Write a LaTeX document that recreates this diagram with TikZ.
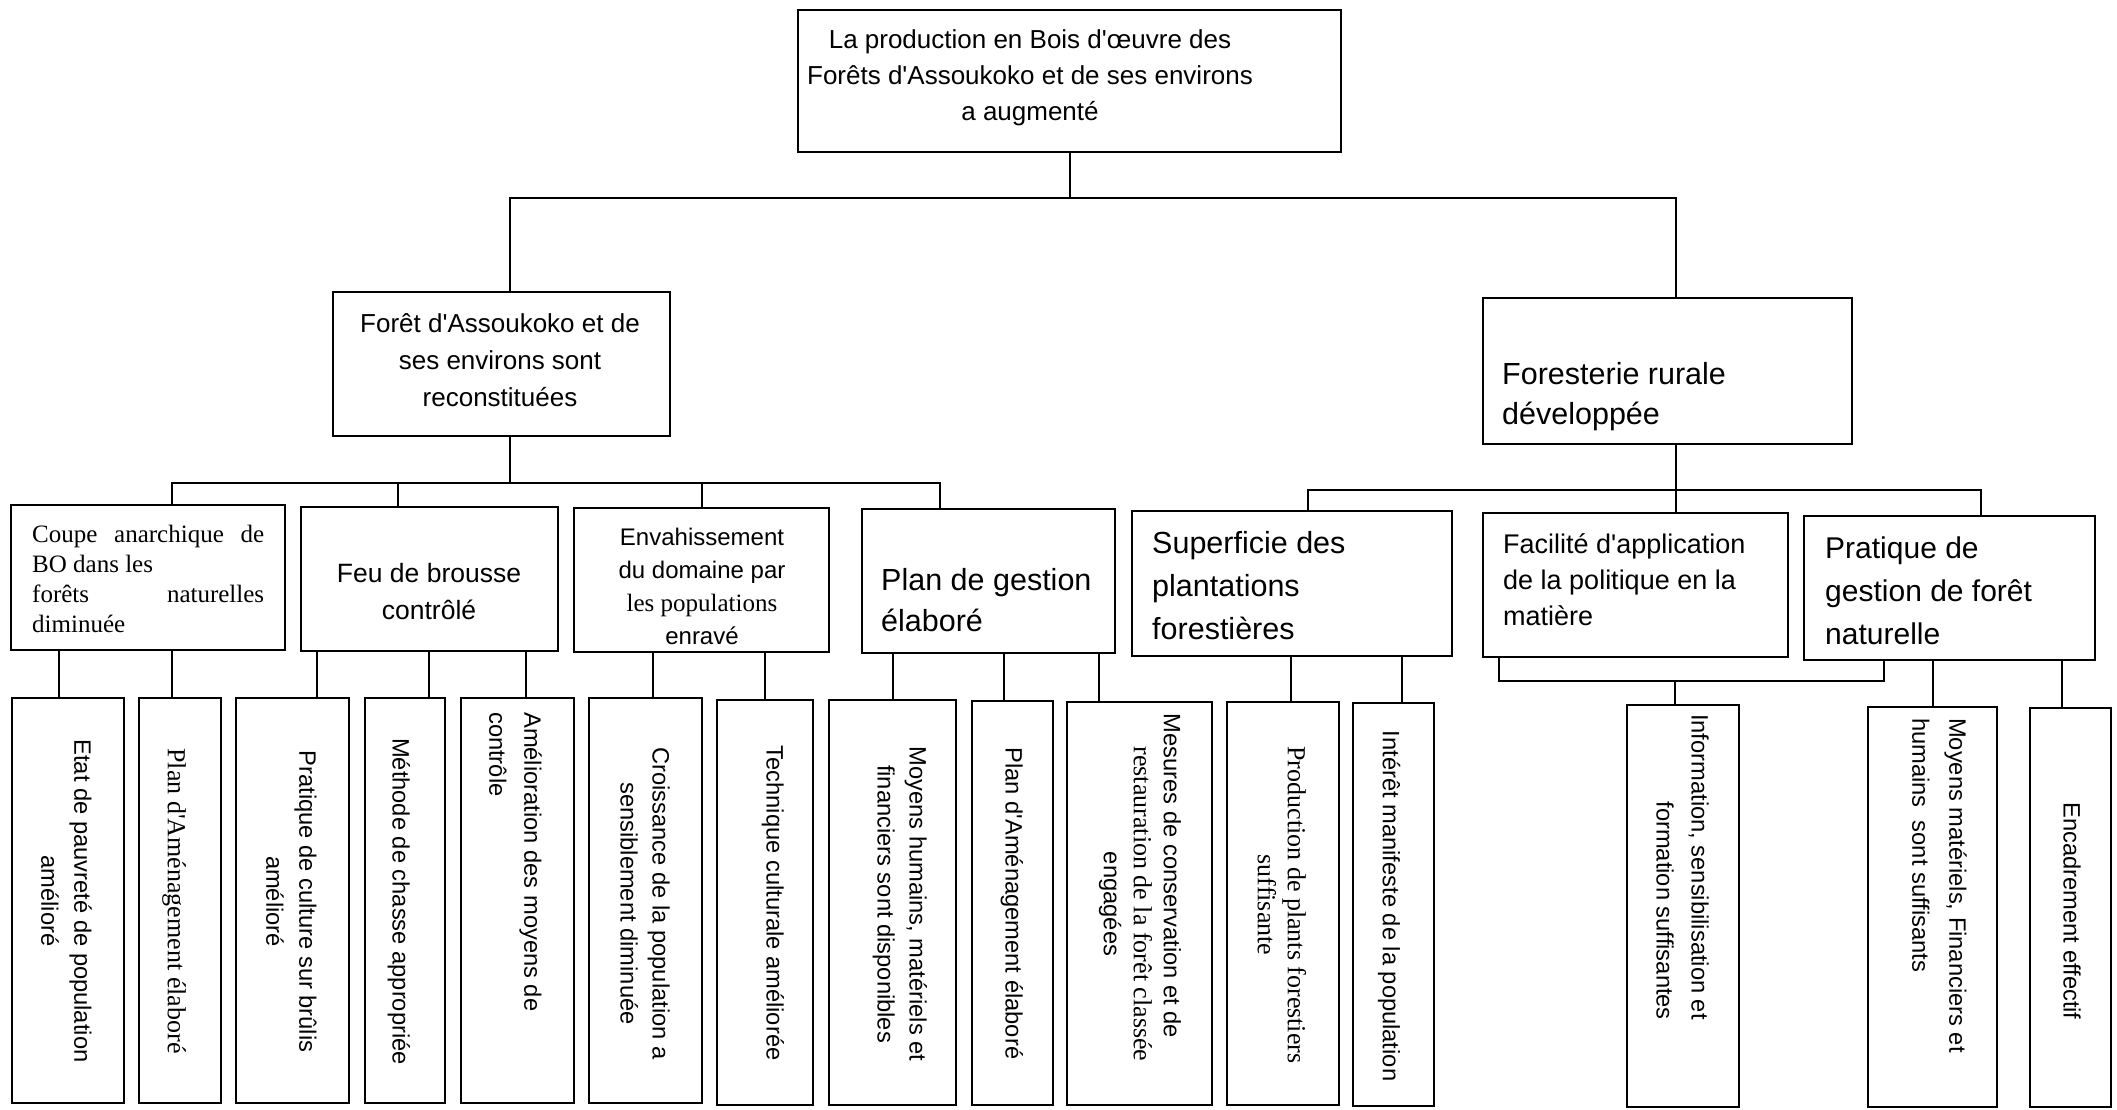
\documentclass[tikz,border=0pt]{standalone}
\usepackage{fontspec}
\setmainfont{Liberation Serif}
\newfontfamily\arial{Liberation Sans}
\newfontfamily\tnr{Liberation Serif}
\begin{document}
\begin{tikzpicture}[x=1pt,y=-1pt,
  box/.style={draw, line width=2pt, inner sep=0pt, rectangle},
  conn/.style={line width=2pt},
  sfnt/.style 2 args={inner sep=0pt, font={\arial\fontsize{#1}{#2}\selectfont}},
  rmnt/.style 2 args={inner sep=0pt, font={\tnr\fontsize{#1}{#2}\selectfont}},
  vs/.style={inner sep=0pt, rotate=-90, font={\arial\fontsize{23.7}{#1}\selectfont}},
  vr/.style={inner sep=0pt, rotate=-90, font={\tnr\fontsize{26}{#1}\selectfont}},
]
\useasboundingbox[fill=white] (0,0) rectangle (2117,1110);

% ---------- level 0
\node[box, minimum width=543pt, minimum height=142pt] (T) at (1069.5,81) {};
\node[sfnt={26}{36}, align=center] (tT) at (1030,78) {La production en Bois d'œuvre des\\Forêts d'Assoukoko et de ses environs\\a augmenté};

% ---------- level 1
\node[box, minimum width=337pt, minimum height=144pt] (L1) at (501.5,364) {};
\node[sfnt={26}{37}, align=center] (tL1) at (500,360) {Forêt d'Assoukoko et de\\ses environs sont\\reconstituées};
\node[box, minimum width=369pt, minimum height=146pt] (R1) at (1667.5,371) {};
\node[sfnt={30.5}{40}, align=left, anchor=west] (tR1) at (1502,397) {Foresterie rurale\\développée};

% ---------- level 2
\node[box, minimum width=274pt, minimum height=145pt] (C) at (148,577.5) {};
\node[rmnt={25}{30}, align=left, anchor=west] (tC) at (32,579) {\makebox[232pt][s]{Coupe anarchique de}\\BO dans les\\\makebox[232pt][s]{forêts naturelles}\\diminuée};

\node[box, minimum width=257pt, minimum height=144pt] (F) at (429.5,579) {};
\node[sfnt={26.5}{37}, align=center] (tF) at (429,591.5) {Feu de brousse\\contrôlé};

\node[box, minimum width=255pt, minimum height=144pt] (V) at (701.5,580) {};
\node[sfnt={24}{33}, align=center] (tV) at (702,586) {Envahissement\\du domaine par\\\tnr\fontsize{25}{32}\selectfont les populations\\enravé};

\node[box, minimum width=253pt, minimum height=144pt] (P) at (988.5,581) {};
\node[sfnt={30.5}{41}, align=left, anchor=west] (tP) at (881,600) {Plan de gestion\\élaboré};

\node[box, minimum width=320pt, minimum height=145pt] (S) at (1292,583.5) {};
\node[sfnt={30.5}{43}, align=left, anchor=west] (tS) at (1152,586) {Superficie des\\plantations\\forestières};

\node[box, minimum width=305pt, minimum height=144pt] (Fa) at (1635.5,585) {};
\node[sfnt={27}{36}, align=left, anchor=west] (tFa) at (1503,580) {Facilité d'application\\de la politique en la\\matière};

\node[box, minimum width=291pt, minimum height=144pt] (Pr) at (1949.5,588) {};
\node[sfnt={30}{43}, align=left, anchor=west] (tPr) at (1825,591) {Pratique de\\gestion de forêt\\naturelle};

% ---------- level 3 boxes
\node[box, minimum width=112pt, minimum height=405pt] (E1) at (68,900.5) {};
\node[box, minimum width=82pt, minimum height=405pt] (E2) at (180,900.5) {};
\node[box, minimum width=113pt, minimum height=405pt] (E3) at (292.5,900.5) {};
\node[box, minimum width=80pt, minimum height=405pt] (E4) at (405,900.5) {};
\node[box, minimum width=113pt, minimum height=405pt] (E5) at (517.5,900.5) {};
\node[box, minimum width=113pt, minimum height=405pt] (E6) at (645.5,900.5) {};
\node[box, minimum width=96pt, minimum height=405pt] (E7) at (765,902.5) {};
\node[box, minimum width=127pt, minimum height=405pt] (E8) at (892.5,902.5) {};
\node[box, minimum width=81pt, minimum height=404pt] (E9) at (1012.5,903) {};
\node[box, minimum width=145pt, minimum height=403pt] (E10) at (1139.5,903.5) {};
\node[box, minimum width=112pt, minimum height=403pt] (E11) at (1283,903.5) {};
\node[box, minimum width=81pt, minimum height=403pt] (E12) at (1393.5,904.5) {};
\node[box, minimum width=112pt, minimum height=402pt] (E13) at (1683,906) {};
\node[box, minimum width=129pt, minimum height=400pt] (E14) at (1932.5,907) {};
\node[box, minimum width=81pt, minimum height=399pt] (E15) at (2070.5,907.5) {};

% ---------- level 3 texts (vertical)
\node[vs=33, align=center] (tE1) at (66.5,901) {Etat de pauvreté de population\\amélioré};
\node[vr=30] (tE2) at (174,901) {Plan d'Aménagement élaboré};
\node[vs=33, align=center] (tE3) at (291.5,901.5) {Pratique de culture sur brûlis\\amélioré};
\node[vs=33] (tE4) at (399,901.5) {Méthode de chasse appropriée};
\node[vs=35, align=left, anchor=west] (tE5) at (515.5,712) {Amélioration des moyens de\\contrôle};
\node[vs=32, align=center] (tE6) at (645,903.5) {Croissance de la population a\\sensiblement diminuée};
\node[vs=33] (tE7) at (773,903) {Technique culturale améliorée};
\node[vs=32, align=center] (tE8) at (900,904) {Moyens humains, matériels et\\financiers sont disponibles};
\node[vs=33] (tE9) at (1012,903.5) {Plan d'Aménagement élaboré};
\node[vs=30, align=center] (tE10) at (1140,904) {Mesures de conservation et de\rule{56pt}{0pt}\\\tnr\fontsize{26}{32}\selectfont restauration de la forêt classée\\engagées};
\node[vr=30, align=center] (tE11) at (1282,905) {Production de plants forestiers\\suffisante};
\node[vs=33] (tE12) at (1389,906) {Intérêt manifeste de la population};
\node[vs=35, align=right, anchor=east] (tE13) at (1682.5,1020) {Information, sensibilisation et\\formation suffisantes};
\node[vs=37, align=left, anchor=west] (tE14) at (1939.5,718) {Moyens matériels, Financiers et\\humains\ \ sont suffisants};
\node[vs=33] (tE15) at (2072,911) {Encadrement effectif};

% ---------- connector positions
\coordinate (xT) at (1070,0);
\coordinate (xL) at (510,0);
\coordinate (xR) at (1676,0);
\coordinate (y0) at (0,198);
\coordinate (y1) at (0,483);
\coordinate (y2) at (0,490);
\coordinate (y3) at (0,681);
\coordinate (xa) at (172,0);
\coordinate (xb) at (398,0);
\coordinate (xc) at (702,0);
\coordinate (xd) at (940,0);
\coordinate (xs) at (1308,0);
\coordinate (xp) at (1981,0);
\coordinate (xf) at (1499,0);
\coordinate (xg) at (1884,0);
\coordinate (xi) at (1675,0);

% top
\draw[conn] (xT |- T.south) -- (xT |- y0);
\draw[conn] (xL |- L1.north) -- (xL |- y0) -- (xR |- y0) -- (xR |- R1.north);
% left branch
\draw[conn] (xL |- L1.south) -- (xL |- y1);
\draw[conn] (xa |- C.north) -- (xa |- y1) -- (xd |- y1) -- (xd |- P.north);
\draw[conn] (xb |- F.north) -- (xb |- y1);
\draw[conn] (xc |- V.north) -- (xc |- y1);
% right branch
\draw[conn] (xR |- R1.south) -- (xR |- Fa.north);
\draw[conn] (xs |- S.north) -- (xs |- y2) -- (xp |- y2) -- (xp |- Pr.north);
% bracket under Facilite / Pratique
\draw[conn] (xf |- Fa.south) -- (xf |- y3) -- (xg |- y3) -- (xg |- Pr.south);
\draw[conn] (xi |- y3) -- (xi |- E13.north);

% level 3 drops
\coordinate (d1) at (59,0);
\coordinate (d2) at (172,0);
\coordinate (d3) at (317,0);
\coordinate (d4) at (429,0);
\coordinate (d5) at (526,0);
\coordinate (d6) at (653,0);
\coordinate (d7) at (765,0);
\coordinate (d8) at (893,0);
\coordinate (d9) at (1004,0);
\coordinate (d10) at (1099,0);
\coordinate (d11) at (1291,0);
\coordinate (d12) at (1402,0);
\coordinate (d14) at (1933,0);
\coordinate (d15) at (2062,0);
\draw[conn] (d1 |- C.south) -- (d1 |- E1.north);
\draw[conn] (d2 |- C.south) -- (d2 |- E2.north);
\draw[conn] (d3 |- F.south) -- (d3 |- E3.north);
\draw[conn] (d4 |- F.south) -- (d4 |- E4.north);
\draw[conn] (d5 |- F.south) -- (d5 |- E5.north);
\draw[conn] (d6 |- V.south) -- (d6 |- E6.north);
\draw[conn] (d7 |- V.south) -- (d7 |- E7.north);
\draw[conn] (d8 |- P.south) -- (d8 |- E8.north);
\draw[conn] (d9 |- P.south) -- (d9 |- E9.north);
\draw[conn] (d10 |- P.south) -- (d10 |- E10.north);
\draw[conn] (d11 |- S.south) -- (d11 |- E11.north);
\draw[conn] (d12 |- S.south) -- (d12 |- E12.north);
\draw[conn] (d14 |- Pr.south) -- (d14 |- E14.north);
\draw[conn] (d15 |- Pr.south) -- (d15 |- E15.north);
\end{tikzpicture}
\end{document}
